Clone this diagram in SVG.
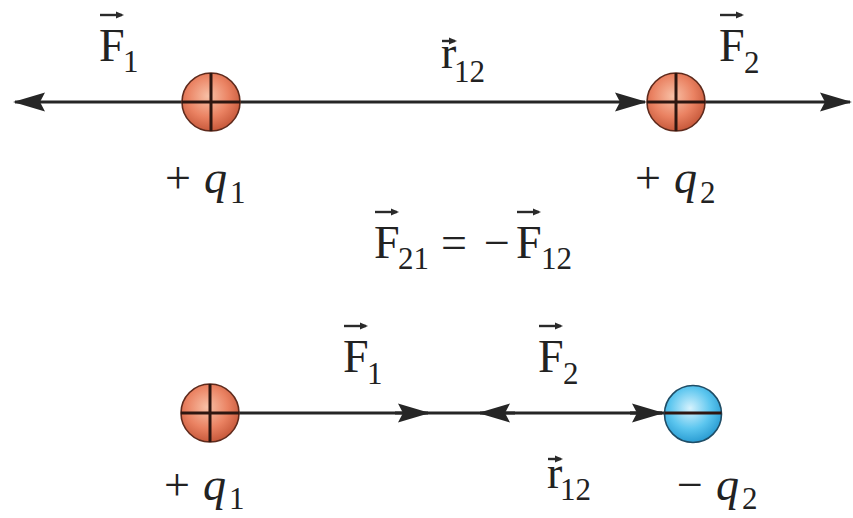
<svg xmlns="http://www.w3.org/2000/svg" width="853" height="518" viewBox="0 0 853 518">
<style>
.ln{stroke:#262626;stroke-width:3.2;fill:none}
.t{font-family:"Liberation Serif","Times New Roman",serif;fill:#222}
.big{font-size:46px}
.sub{font-size:31px}
.it{font-style:italic}
.va{stroke:#2a2a2a;stroke-width:2.4;fill:none}
.cr{stroke:#2e1610;stroke-width:3}
.red{fill:url(#gr);stroke:#5e2a1c;stroke-width:1.6}
.blue{fill:url(#gb);stroke:#1f4d66;stroke-width:1.6}
</style>
<defs>
<radialGradient id="gr" cx="0.45" cy="0.4" r="0.6">
<stop offset="0" stop-color="#f8c0a6"/>
<stop offset="0.6" stop-color="#ea8262"/>
<stop offset="1" stop-color="#c85a3c"/>
</radialGradient>
<radialGradient id="gb" cx="0.45" cy="0.4" r="0.6">
<stop offset="0" stop-color="#d6f2fd"/>
<stop offset="0.6" stop-color="#5cc6ef"/>
<stop offset="1" stop-color="#2b9dd3"/>
</radialGradient>
<marker id="ah" viewBox="0 -10 32 20" markerWidth="32" markerHeight="20" refX="30" refY="0" markerUnits="userSpaceOnUse" orient="auto">
<path d="M0,-9.5 L32,0 L0,9.5 L5,0 z" fill="#262626"/>
</marker>
<marker id="vh" viewBox="0 -4 8 8" markerWidth="8" markerHeight="8" refX="6" refY="0" markerUnits="userSpaceOnUse" orient="auto">
<path d="M0,-3.5 L8,0 L0,3.5 z" fill="#2a2a2a"/>
</marker>
</defs>

<g id="connectors">
<path class="ln" d="M211,102 H15" marker-end="url(#ah)"/>
<path class="ln" d="M211,102 H645" marker-end="url(#ah)"/>
<path class="ln" d="M676,102 H850" marker-end="url(#ah)"/>
<path class="ln" d="M210,413 H665"/>
<path class="ln" d="M395,413 H428" marker-end="url(#ah)"/>
<path class="ln" d="M515,413 H480" marker-end="url(#ah)"/>
<path class="ln" d="M630,413 H662" marker-end="url(#ah)"/>
</g>

<g id="q1-top">
<circle class="red" cx="211" cy="102" r="29"/>
<line class="cr" x1="182" y1="102" x2="240" y2="102"/>
<line class="cr" x1="211" y1="73" x2="211" y2="131"/>
</g>
<g id="q2-top">
<circle class="red" cx="676" cy="102" r="29"/>
<line class="cr" x1="647" y1="102" x2="705" y2="102"/>
<line class="cr" x1="676" y1="73" x2="676" y2="131"/>
</g>
<g id="q1-bottom">
<circle class="red" cx="210" cy="413" r="29"/>
<line class="cr" x1="181" y1="413" x2="239" y2="413"/>
<line class="cr" x1="210" y1="384" x2="210" y2="442"/>
</g>
<g id="q2-bottom">
<circle class="blue" cx="693" cy="414" r="28.5"/>
<line class="cr" x1="664.5" y1="413" x2="721.5" y2="413" stroke="#1a2a33"/>
</g>

<g id="labels">
<path class="va" d="M100,15 H122" marker-end="url(#vh)"/>
<text class="t big" x="99" y="61">F</text>
<text class="t sub" x="123" y="72">1</text>

<path class="va" d="M442,41 H455" marker-end="url(#vh)"/>
<text class="t big" x="441" y="68">r</text>
<text class="t sub" x="454" y="82">12</text>

<path class="va" d="M720,15 H742" marker-end="url(#vh)"/>
<text class="t big" x="719" y="61">F</text>
<text class="t sub" x="744" y="73">2</text>

<text class="t big" x="165" y="193">+</text>
<text class="t big it" x="204" y="193">q</text>
<text class="t sub" x="230" y="203">1</text>

<text class="t big" x="635" y="193">+</text>
<text class="t big it" x="674" y="193">q</text>
<text class="t sub" x="700" y="203">2</text>

<path class="va" d="M375,212 H397" marker-end="url(#vh)"/>
<text class="t big" x="374" y="258">F</text>
<text class="t sub" x="398" y="269">21</text>
<text class="t big" x="441" y="258">=</text>
<text class="t big" x="484" y="258">−</text>
<path class="va" d="M517,212 H539" marker-end="url(#vh)"/>
<text class="t big" x="516" y="258">F</text>
<text class="t sub" x="541" y="269">12</text>

<path class="va" d="M344,326 H366" marker-end="url(#vh)"/>
<text class="t big" x="343" y="372">F</text>
<text class="t sub" x="367" y="384">1</text>

<path class="va" d="M539,326 H561" marker-end="url(#vh)"/>
<text class="t big" x="538" y="372">F</text>
<text class="t sub" x="563" y="384">2</text>

<path class="va" d="M548,459 H561" marker-end="url(#vh)"/>
<text class="t big" x="547" y="488">r</text>
<text class="t sub" x="560" y="500">12</text>

<text class="t big" x="164" y="500">+</text>
<text class="t big it" x="203" y="500">q</text>
<text class="t sub" x="229" y="509">1</text>

<text class="t big" x="677" y="500">−</text>
<text class="t big it" x="716" y="500">q</text>
<text class="t sub" x="742" y="509">2</text>
</g>
</svg>
